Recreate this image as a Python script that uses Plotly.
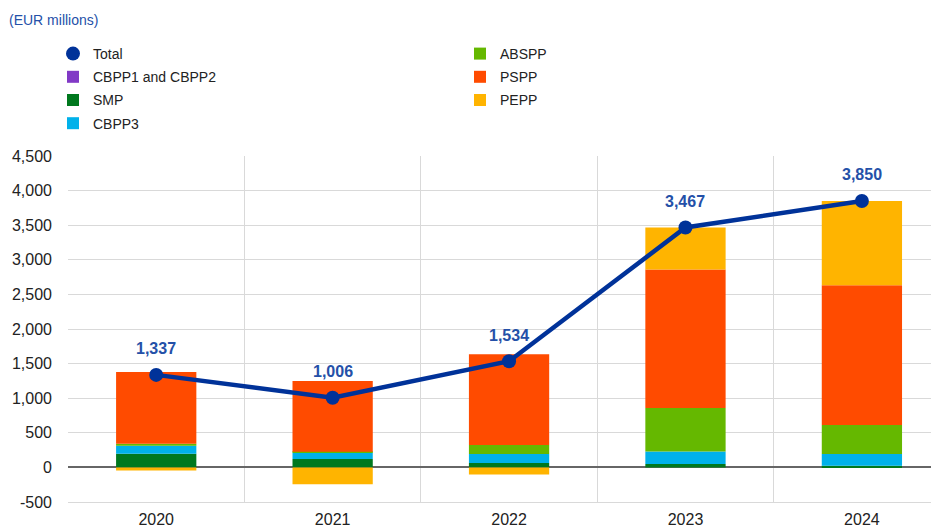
import plotly.graph_objects as go

years = ["2020", "2021", "2022", "2023", "2024"]
cbpp12 = [0, 0, 0, 0, 0]
smp = [197, 120, 65, 48, 23]
cbpp3 = [116, 95, 130, 183, 169]
abspp = [29, 12, 130, 629, 422]
pspp = [1038, 1022, 1310, 2000, 2019]
pepp = [-43, -243, -101, 607, 1217]
total = [1337, 1006, 1534, 3467, 3850]
total_labels = ["1,337", "1,006", "1,534", "3,467", "3,850"]

y_tickvals = [-500, 0, 500, 1000, 1500, 2000, 2500, 3000, 3500, 4000, 4500]
y_ticktext = ["-500", "0", "500", "1,000", "1,500", "2,000", "2,500", "3,000", "3,500", "4,000", "4,500"]

FONT = "Liberation Sans, Arial, sans-serif"
BLUE = "#003299"
W, H = 931, 519  # page body has an 8px margin

fig = go.Figure()

bar_series = [
    ("CBPP1 and CBPP2", cbpp12, "#8139c6", "legend"),
    ("SMP", smp, "#00781e", "legend"),
    ("CBPP3", cbpp3, "#00b1ea", "legend"),
    ("ABSPP", abspp, "#65b800", "legend2"),
    ("PSPP", pspp, "#ff4b00", "legend2"),
    ("PEPP", pepp, "#ffb400", "legend2"),
]

# legend-only marker for Total
fig.add_trace(go.Scatter(x=[None], y=[None], mode="markers", name="Total",
                         marker=dict(color=BLUE, size=14), legend="legend",
                         legendgroup="g0", legendrank=1))

for i, (name, vals, col, lg) in enumerate(bar_series):
    fig.add_trace(go.Bar(x=years, y=vals, name=name, marker=dict(color=col, line=dict(width=0)),
                         legend=lg, legendgroup="g%d" % (i + 1), width=0.455,
                         legendrank=2 + i))

fig.add_trace(go.Scatter(x=years, y=total, mode="lines+markers", name="Total",
                         line=dict(color=BLUE, width=4.5),
                         marker=dict(color=BLUE, size=14), showlegend=False))

for i, (v, lab) in enumerate(zip(total, total_labels)):
    fig.add_annotation(x=i, y=v, xref="x", yref="y", text="<b>%s</b>" % lab, showarrow=False,
                       yshift=26, font=dict(family=FONT, size=16, color="#2450a8"))

fig.update_layout(
    width=W, height=H,
    barmode="relative",
    plot_bgcolor="white", paper_bgcolor="white",
    margin=dict(l=60, r=0, t=147.5, b=25, autoexpand=False),
    font=dict(family=FONT, size=14, color="#222222"),
    title=dict(text="(EUR millions)", x=1/W, xanchor="left", y=1-12/H, yanchor="middle",
               font=dict(family=FONT, size=14, color="#2450a8")),
    legend=dict(xref="container", yref="container", x=45/W, y=1-30/H,
                xanchor="left", yanchor="top", font=dict(family=FONT, size=14, color="#222222"),
                bgcolor="rgba(0,0,0,0)", tracegroupgap=2, itemwidth=30,
                traceorder="grouped"),
    legend2=dict(xref="container", yref="container", x=452/W, y=1-30/H,
                 xanchor="left", yanchor="top", font=dict(family=FONT, size=14, color="#222222"),
                 bgcolor="rgba(0,0,0,0)", tracegroupgap=2, itemwidth=30,
                 traceorder="grouped"),
    xaxis=dict(type="category", range=[-0.5, 4.437], tickson="boundaries",
               showgrid=True, gridcolor="#d9d9d9", gridwidth=1, ticks="",
               tickfont=dict(family=FONT, size=16, color="#222222"),
               showline=True, linecolor="#d9d9d9", linewidth=1, mirror=False,
               zeroline=False, ticklabelstandoff=3),
    yaxis=dict(range=[-500, 4500], tickvals=y_tickvals, ticktext=y_ticktext,
               showgrid=True, gridcolor="#d9d9d9", gridwidth=1,
               zeroline=True, zerolinecolor="#666666", zerolinewidth=1.5,
               tickfont=dict(family=FONT, size=16, color="#222222"),
               ticks="", ticklabelstandoff=15, showline=False),
)

fig.write_html("out.html")
